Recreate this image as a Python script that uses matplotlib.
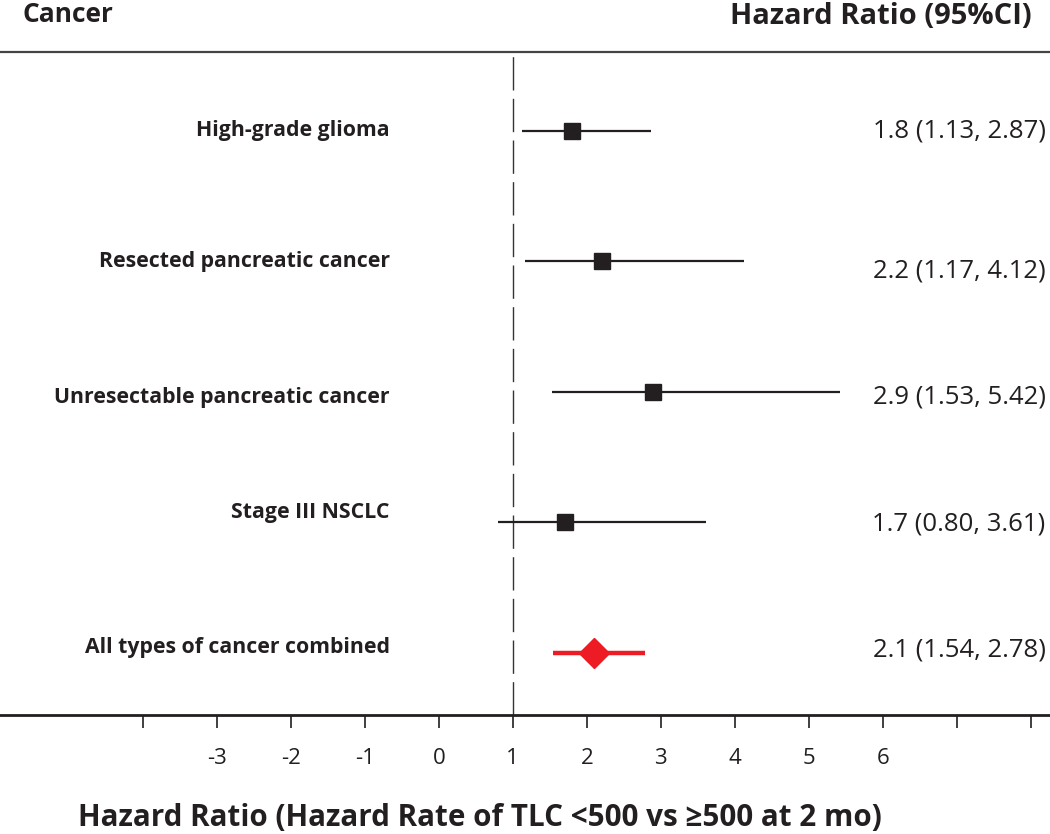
import matplotlib
matplotlib.use('Agg')
import matplotlib.pyplot as plt

plt.rcParams['font.family'] = ['Open Sans', 'DejaVu Sans']

cancers = ['High-grade glioma', 'Resected pancreatic cancer', 'Unresectable pancreatic cancer',
           'Stage III NSCLC', 'All types of cancer combined']
hr = [1.8, 2.2, 2.9, 1.7, 2.1]
ci_low = [1.13, 1.17, 1.53, 0.80, 1.54]
ci_high = [2.87, 4.12, 5.42, 3.61, 2.78]
tick_values = [-4, -3, -2, -1, 0, 1, 2, 3, 4, 5, 6, 7, 8]
tick_labels = ['', '-3', '-2', '-1', '0', '1', '2', '3', '4', '5', '6', '', '']

# small vertical nudges of the text columns (row units)
label_dy = [0, 0, -0.04, 0.08, 0.04]
hr_dy = [0, -0.07, -0.04, -0.01, 0.02]

fig = plt.figure(figsize=(10.5, 8.34), dpi=100)
ax = fig.add_axes([0, 0.1427, 1, 0.795])

n = len(cancers)
rows = [n - i for i in range(n)]

ax.axvline(1, color='#333333', lw=1.0, dashes=(24, 6), zorder=1)

for i, name in enumerate(cancers):
    y = rows[i]
    last = i == n - 1
    if last:
        ax.plot([ci_low[i], ci_high[i]], [y, y], color='#ED1C24', lw=3.2, solid_capstyle='butt', zorder=2)
        ax.plot(hr[i], y, marker='D', ms=15, color='#ED1C24', mec='#ED1C24', zorder=3)
    else:
        ax.plot([ci_low[i], ci_high[i]], [y, y], color='#231F20', lw=1.6, solid_capstyle='butt', zorder=2)
        ax.plot(hr[i], y, marker='s', ms=11.5, color='#231F20', zorder=3)
    ax.text(-0.66, y + label_dy[i], name, ha='right', va='center', fontsize=15.3, fontweight='bold',
            color='#231F20')
    ax.text(8.2, y + hr_dy[i], f"{hr[i]:.1f} ({ci_low[i]:.2f}, {ci_high[i]:.2f})",
            ha='right', va='center', fontsize=18.5, color='#231F20')

ax.set_xlim(-5.93, 8.26)
ax.set_ylim(0.525, 5.605)
ax.set_yticks([])
ax.set_xticks(tick_values)
ax.set_xticklabels(tick_labels, fontsize=16, color='#231F20')
ax.tick_params(axis='x', direction='out', length=9, width=1.2, pad=15, color='#231F20')

for side in ['left', 'right']:
    ax.spines[side].set_visible(False)
ax.spines['bottom'].set_linewidth(2)
ax.spines['bottom'].set_color('#231F20')
ax.spines['top'].set_linewidth(1.6)
ax.spines['top'].set_color('#444444')

fig.text(22 / 1050, 1 - 14 / 834, 'Cancer', ha='left', va='center', fontsize=19, fontweight='bold',
         color='#231F20')
fig.text(1032 / 1050, 1 - 16 / 834, 'Hazard Ratio (95%CI)', ha='right', va='center', fontsize=21,
         fontweight='bold', color='#231F20')
fig.text(480 / 1050, 1 - 818 / 834, 'Hazard Ratio (Hazard Rate of TLC <500 vs \u2265500 at 2 mo)',
         ha='center', va='center', fontsize=21.3, fontweight='bold', color='#231F20')

fig.savefig('out.png', dpi=100)
